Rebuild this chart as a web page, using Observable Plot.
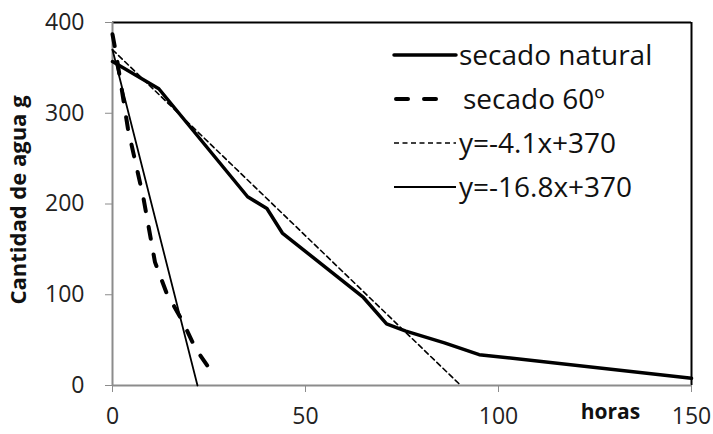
<!DOCTYPE html>
<html>
<head>
<meta charset="utf-8">
<script src="https://cdn.jsdelivr.net/npm/d3@7"></script>
<script src="https://cdn.jsdelivr.net/npm/@observablehq/plot@0.6"></script>
<style>
  html, body { margin: 0; padding: 0; background: #fff; }
  #chart svg { display: block; }
</style>
</head>
<body>
<div id="chart"></div>
<script>
// ---- data ----
const naturalHours = [0, 12, 35, 40, 44, 65, 71, 76, 86, 95, 150];
const naturalWater = [357, 327, 208, 195, 168, 97, 68, 60, 47, 34, 8];

const oven60Hours = [0, 1, 4, 8, 11, 14, 18, 21.5, 25.5];
const oven60Water = [387, 364, 283, 207, 136, 102, 72, 41, 16];

const trendSlowHours = [0, 90.24];
const trendSlowWater = [370, 0];
const trendFastHours = [0, 22.02];
const trendFastWater = [370, 0];

const xTicks = [0, 50, 100, 150];
const yTicks = [0, 100, 200, 300, 400];

const legendLabels = ["secado natural", "secado 60º", "y=-4.1x+370", "y=-16.8x+370"];
const xTitle = "horas";
const yTitle = "Cantidad de agua g";

// ---- build tables ----
const toRows = (xs, ys) => xs.map((x, i) => ({x, y: ys[i]}));
const natural = toRows(naturalHours, naturalWater);
const oven60 = toRows(oven60Hours, oven60Water);
const trendSlow = toRows(trendSlowHours, trendSlowWater);
const trendFast = toRows(trendFastHours, trendFastWater);

const FONT = "'Open Sans', sans-serif";
const GRAY = "#8c8c8c";

const styles = [
  {stroke: "#000", strokeWidth: 3.5, dash: null, cap: "round"},
  {stroke: "#000", strokeWidth: 4, dash: "12,16", cap: "round"},
  {stroke: "#000", strokeWidth: 1.6, dash: "5,3.5", cap: "butt"},
  {stroke: "#000", strokeWidth: 1.8, dash: null, cap: "butt"}
];

const plot = Plot.plot({
  width: 713,
  height: 434,
  marginLeft: 112,
  marginRight: 22,
  marginTop: 22,
  marginBottom: 49,
  style: {fontFamily: FONT, background: "#fff"},
  x: {domain: [0, 150]},
  y: {domain: [0, 400]},
  marks: [
    Plot.ruleY([400], {stroke: "#000", strokeWidth: 2}),
    Plot.ruleX([150], {stroke: "#000", strokeWidth: 2}),
    Plot.axisX({ticks: xTicks, tickSize: 7, tickPadding: 15, stroke: GRAY, fill: "#222", fontSize: 23, label: null, tickFormat: d => String(d)}),
    Plot.axisY({ticks: yTicks, tickSize: 7, tickPadding: 21, stroke: GRAY, fill: "#222", fontSize: 23, label: null, tickFormat: d => String(d)}),
    Plot.ruleY([0], {stroke: GRAY, strokeWidth: 2}),
    Plot.ruleX([0], {stroke: GRAY, strokeWidth: 2}),
    Plot.line(trendSlow, {x: "x", y: "y", stroke: styles[2].stroke, strokeWidth: styles[2].strokeWidth, strokeDasharray: styles[2].dash}),
    Plot.line(trendFast, {x: "x", y: "y", stroke: styles[3].stroke, strokeWidth: styles[3].strokeWidth}),
    Plot.line(natural, {x: "x", y: "y", stroke: styles[0].stroke, strokeWidth: styles[0].strokeWidth, strokeLinejoin: "round", strokeLinecap: "round"}),
    Plot.line(oven60, {x: "x", y: "y", stroke: styles[1].stroke, strokeWidth: styles[1].strokeWidth, strokeDasharray: styles[1].dash, strokeLinecap: "round", strokeLinejoin: "round"}),
    Plot.text([yTitle], {frameAnchor: "left", dx: -94, dy: -4, rotate: -90, text: d => d, fontSize: 22, fontWeight: "bold", fill: "#111", textAnchor: "middle", lineAnchor: "middle"}),
    Plot.text([xTitle], {frameAnchor: "bottom-right", dx: -81, dy: 27, text: d => d, fontSize: 21, fontWeight: "bold", fill: "#111", textAnchor: "middle", lineAnchor: "middle"})
  ]
});

document.getElementById("chart").appendChild(plot);

// ---- legend (inside top-right of plot area) ----
const svg = d3.select(plot);
const lg = svg.append("g").attr("font-family", FONT).attr("font-size", 28).attr("fill", "#111").attr("text-anchor", "start");
const rowY0 = 55, rowStep = 44, lineX0 = 394, lineX1 = 456, textX = 459;
legendLabels.forEach((label, i) => {
  const y = rowY0 + i * rowStep;
  const s = styles[i];
  const x2 = s.dash && s.strokeWidth > 3 ? 442 : lineX1;
  const x1 = s.dash && s.strokeWidth > 3 ? 396 : lineX0;
  const ln = lg.append("line")
    .attr("x1", x1).attr("x2", x2).attr("y1", y).attr("y2", y)
    .attr("stroke", s.stroke).attr("stroke-width", s.strokeWidth)
    .attr("stroke-linecap", s.cap);
  if (s.dash) ln.attr("stroke-dasharray", s.dash);
  lg.append("text").attr("x", textX + (i === 1 ? 4 : 0)).attr("y", y).attr("dy", "0.35em").attr("text-anchor", "start").text(label);
});
</script>
</body>
</html>
